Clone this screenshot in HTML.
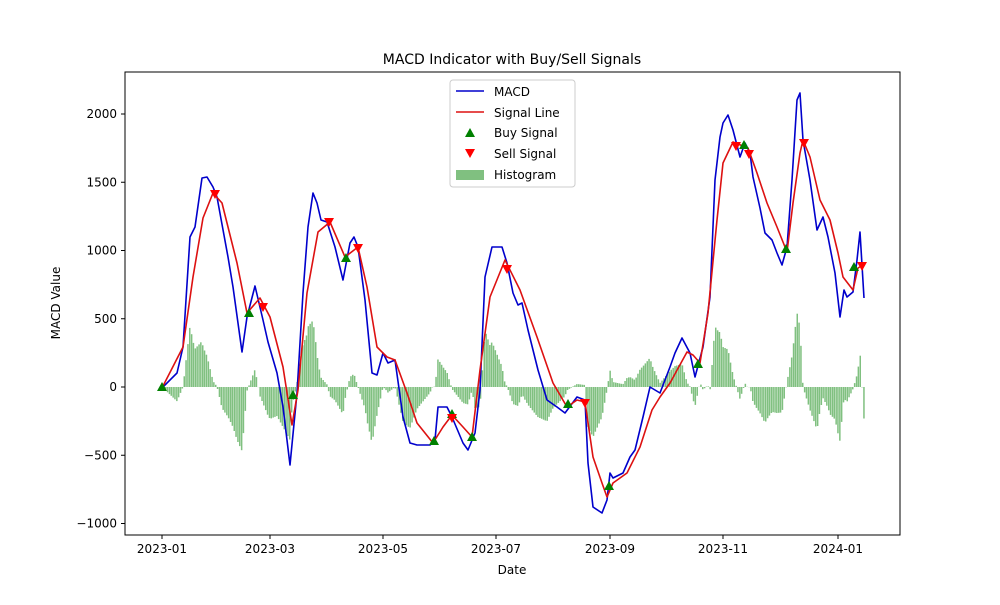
<!DOCTYPE html>
<html><head><meta charset="utf-8"><style>
body{margin:0;background:#fff;font-family:"Liberation Sans","DejaVu Sans",sans-serif}
text{font-family:"DejaVu Sans","Liberation Sans",sans-serif;fill:#000}
</style></head><body>
<svg id="s" width="1000" height="600" xmlns="http://www.w3.org/2000/svg">
<rect width="1000" height="600" fill="#fff"/>
<g id="hist"></g>
<polyline id="macd" fill="none" stroke="#0000cc" stroke-width="1.6" stroke-linejoin="round"/>
<polyline id="sig" fill="none" stroke="#dd1111" stroke-width="1.6" stroke-linejoin="round"/>
<g id="mk"></g>
<rect x="125" y="72" width="775" height="463" fill="none" stroke="#000" stroke-width="1"/>
<g id="ax" font-size="12"></g>
<text x="512" y="64" font-size="14" text-anchor="middle">MACD Indicator with Buy/Sell Signals</text>
<text x="512" y="574" font-size="12" text-anchor="middle">Date</text>
<text x="60" y="303" font-size="12" text-anchor="middle" transform="rotate(-90 60 303)">MACD Value</text>
<g font-size="12">
<rect x="450" y="80" width="125" height="107" fill="#fff" stroke="#ccc" rx="3"/>
<line x1="456" y1="91" x2="484" y2="91" stroke="#0000cc" stroke-width="1.6"/>
<text x="494" y="96">MACD</text>
<line x1="456" y1="112" x2="484" y2="112" stroke="#dd1111" stroke-width="1.6"/>
<text x="494" y="117">Signal Line</text>
<polygon points="470,128 475,137 465,137" fill="green"/>
<text x="494" y="137">Buy Signal</text>
<polygon points="465,149 475,149 470,158" fill="red"/>
<text x="494" y="158">Sell Signal</text>
<rect x="456" y="170" width="28" height="10" fill="#80c080"/>
<text x="494" y="179">Histogram</text>
</g>
</svg>
<script>
const M=[[162,388],[177,373],[183,347],[190,237],[195,227],[202,178],[207,177],[213,187],[217,197],[228,257],[233,287],[242,352],[247,317],[255,286],[263,320],[268,342],[277,373],[283,407],[290,465],[297,393],[303,293],[308,227],[313,193],[317,203],[321,220],[327,222],[335,247],[343,280],[350,243],[354,237],[358,247],[365,300],[372,373],[377,375],[383,353],[388,363],[395,360],[403,417],[410,443],[417,445],[430,445],[435,440],[438,407],[447,407],[452,417],[463,443],[468,450],[475,433],[480,390],[485,277],[492,247],[502,247],[507,263],[513,293],[518,305],[522,303],[528,330],[538,370],[547,400],[557,407],[565,413],[577,397],[585,400],[588,463],[593,507],[602,513],[607,500],[610,473],[613,478],[623,473],[630,457],[635,450],[643,417],[650,387],[660,393],[670,367],[675,353],[682,338],[690,353],[695,377],[703,347],[710,297],[715,180],[720,137],[723,123],[728,115],[733,130],[740,157],[745,143],[750,153],[753,177],[760,208],[765,233],[772,240],[777,253],[782,265],[787,247],[792,180],[797,100],[800,93],[803,140],[810,180],[817,230],[823,217],[828,237],[835,273],[840,317],[844,290],[847,297],[853,292],[857,260],[860,232],[864,298]];
const S=[[162,388],[183,347],[193,277],[203,218],[213,193],[222,203],[237,263],[247,313],[260,298],[270,317],[283,367],[292,425],[298,390],[307,293],[318,232],[330,222],[345,257],[358,247],[367,287],[377,347],[387,357],[395,360],[407,393],[417,423],[433,443],[443,427],[452,415],[463,427],[472,437],[480,370],[490,297],[505,260],[520,290],[537,337],[553,383],[567,407],[577,400],[585,402],[593,457],[602,483],[607,497],[613,483],[627,473],[640,447],[652,410],[660,397],[670,383],[687,352],[693,355],[700,363],[708,313],[717,220],[723,163],[733,142],[748,148],[757,173],[767,203],[777,227],[787,252],[793,203],[800,153],[803,140],[810,157],[820,200],[830,220],[838,253],[843,277],[853,290],[858,268],[863,265]];
const pts=a=>a.map(p=>p[0]+','+p[1]).join(' ');
document.getElementById('macd').setAttribute('points',pts(M));
document.getElementById('sig').setAttribute('points',pts(S));
function interp(a,x){for(let i=1;i<a.length;i++){if(x<=a[i][0]){const t=(x-a[i-1][0])/(a[i][0]-a[i-1][0]);return a[i-1][1]+t*(a[i][1]-a[i-1][1]);}}return a[a.length-1][1];}
let h='';
for(let d=0;d<=379;d++){const x=162+d*1.852;const dv=interp(S,x)-interp(M,x);const y0=387,y1=387-dv;h+=`<rect x="${(x-0.75).toFixed(1)}" y="${Math.min(y0,y1).toFixed(1)}" width="1.5" height="${Math.abs(y1-y0).toFixed(1)}" fill="#80c080"/>`;}
document.getElementById('hist').innerHTML=h;
const B=[[162,387],[249,313],[293,395],[346,258],[434,441],[452,414],[472,437],[568,404],[609,486],[698,364],[744,145],[786,249],[854,267]];
const R=[[215,194],[263,307],[329,222],[358,248],[452,418],[507,269],[585,403],[736,146],[749,154],[804,143],[862,266]];
let m='';
B.forEach(([x,y])=>m+=`<polygon points="${x},${y-5} ${x+5},${y+4} ${x-5},${y+4}" fill="green"/>`);
R.forEach(([x,y])=>m+=`<polygon points="${x-5},${y-4} ${x+5},${y-4} ${x},${y+5}" fill="red"/>`);
document.getElementById('mk').innerHTML=m;
const Y=v=>387-v*0.1365;
let a='';
for(let v=-1000;v<=2000;v+=500){const y=Y(v);a+=`<line x1="121" x2="125" y1="${y}" y2="${y}" stroke="#000"/><text x="117" y="${y+4}" text-anchor="end">${v<0?'\u2212'+(-v):v}</text>`;}
const xl=[[162,'2023-01'],[270,'2023-03'],[383,'2023-05'],[496,'2023-07'],[610,'2023-09'],[723,'2023-11'],[838,'2024-01']];
xl.forEach(([x,t])=>a+=`<line x1="${x}" x2="${x}" y1="535" y2="539" stroke="#000"/><text x="${x}" y="553" text-anchor="middle">${t}</text>`);
document.getElementById('ax').innerHTML=a;
</script>
</body></html>
